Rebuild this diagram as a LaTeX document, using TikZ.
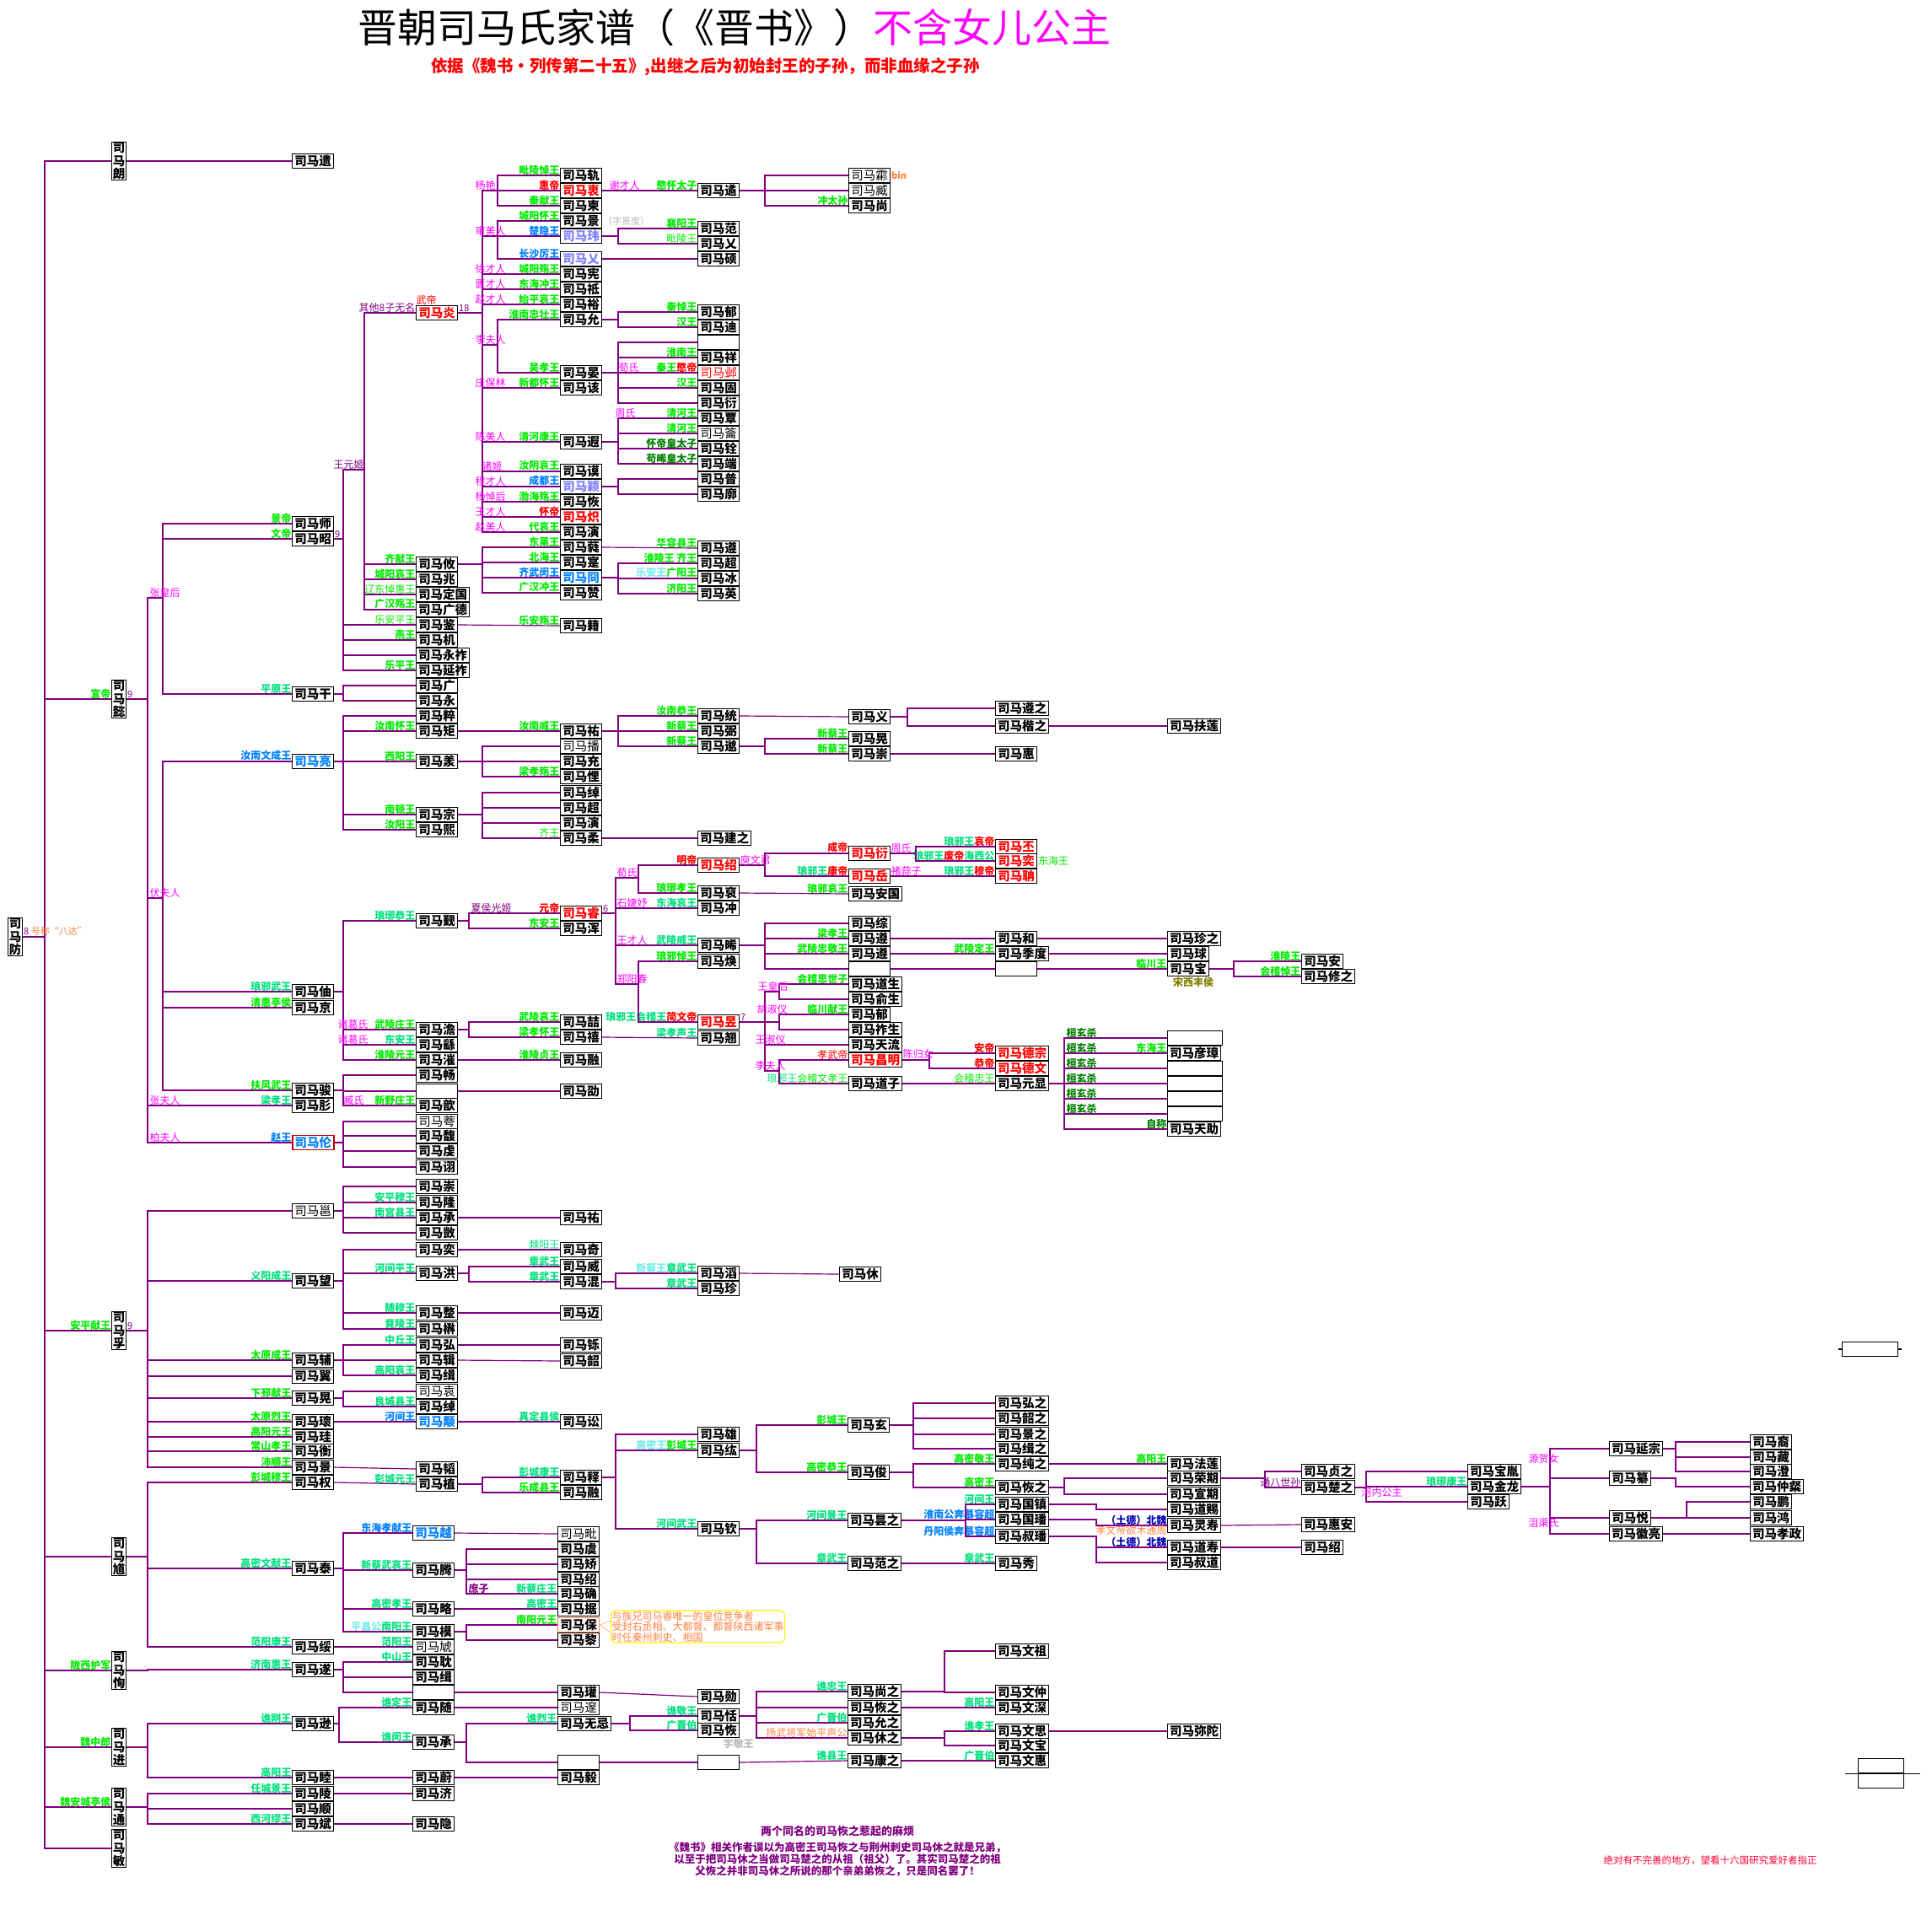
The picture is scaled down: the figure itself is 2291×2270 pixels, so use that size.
\documentclass[tikz,border=0pt]{standalone}
\usepackage{fontspec}
\setmainfont{Noto Sans CJK SC}
\usepackage{graphicx}
\usetikzlibrary{positioning}

\definecolor{vio}{RGB}{128,0,128}
\definecolor{gA}{RGB}{0,235,0}
\definecolor{gB}{RGB}{0,225,125}
\definecolor{gC}{RGB}{0,128,0}
\definecolor{mg}{RGB}{255,0,255}
\definecolor{bl}{RGB}{0,128,255}
\definecolor{lb}{RGB}{128,128,255}
\definecolor{cy}{RGB}{120,235,235}
\definecolor{og}{RGB}{255,128,64}
\definecolor{ol}{RGB}{128,128,0}
\definecolor{gy}{RGB}{185,185,185}

\begin{document}
\begin{tikzpicture}[x=1pt,y=-1pt]

	\tikzstyle{nm}=[rectangle,draw=black,line width=1pt,
		inner xsep=2.6pt,inner ysep=0pt,minimum height=17pt,minimum width=49pt,
		anchor=west,font=\fontsize{14.5}{15}\selectfont\bfseries]
	\tikzstyle{lite}=[font=\fontsize{14.5}{15}\selectfont]
	\tikzstyle{vnm}=[rectangle,draw=black,line width=1pt,inner sep=0.6pt,
		minimum width=17pt,align=center,font=\fontsize{14.5}{15.6}\selectfont\bfseries]
	\tikzstyle{lab}=[anchor=south east,inner sep=0.5pt,text=gA,
		font=\fontsize{12}{12}\selectfont\bfseries]
	\tikzstyle{thin}=[font=\fontsize{12}{12}\selectfont]
	\tikzstyle{mom}=[anchor=south west,inner sep=0.5pt,text=mg,
		font=\fontsize{12}{12}\selectfont]
	\tikzstyle{num}=[anchor=south west,inner sep=1pt,text=vio,
		font=\fontsize{11}{11}\selectfont]
	\tikzstyle{ln}=[draw=vio,line width=1.2pt]

	\useasboundingbox (0,0) rectangle (2291,2270);

	% title
	\node[anchor=west,inner sep=0,font=\fontsize{47}{47}\selectfont] (title) at (424,33)
		{晋朝司马氏家谱（《晋书》）\textcolor{mg}{不含女儿公主}};
	\node[anchor=west,inner sep=0,text=red,font=\fontsize{19.5}{19.5}\selectfont\bfseries] (sub) at (511,79)
		{依据《魏书・列传第二十五》,出继之后为初始封王的子孙，而非血缘之子孙};

	% ---------------- trunk
	\node[vnm] (fang) at (18,1111) {司\\马\\防};
	\node[vnm] (lang) at (141,191) {司\\马\\朗};
	\node[vnm,label={[lab]west:宣帝}] (yi) at (141,829) {司\\马\\懿};
	\node[vnm,label={[lab]west:安平献王}] (fu) at (141,1578) {司\\马\\孚};
	\node[vnm] (kui) at (141,1846) {司\\马\\馗};
	\node[vnm,label={[lab]west:陇西护军}] (xun) at (141,1981) {司\\马\\恂};
	\node[vnm,label={[lab]west:魏中郎}] (jin) at (141,2072) {司\\马\\进};
	\node[vnm,label={[lab]west:魏安城亭侯}] (tong) at (141,2143) {司\\马\\通};
	\node[vnm] (min) at (141,2192) {司\\马\\敏};
	\foreach \s in {lang,yi,fu,kui,xun,jin,tong,min}
		\draw[ln] (fang.east) -- (fang.east -| 53,0) |- (\s.west);
	\node[num] (ba) at (fang.east) {8 \textcolor{og}{号称“八达”}};
	\node[num] (n9a) at (yi.east) {9};
	\node[num] (n9b) at (fu.east) {9};

	% ---------------- 司马朗
	\node[nm] (yiB) at (346,191) {司马遗};
	\draw[ln] (lang.east) -- (yiB.west);

	% ---------------- 司马懿
	\node[nm,label={[lab]west:景帝}] (shi) at (346,621) {司马师};
	\node[nm,label={[lab]west:文帝}] (zhao) at (346,639) {司马昭};
	\node[nm,label={[lab,text=gB]west:平原王}] (gan) at (346,823) {司马干};
	\node[nm,text=bl,label={[lab,text=bl]west:汝南文成王}] (liang) at (346,903) {司马亮};
	\node[nm,label={[lab,text=gB]west:琅邪武王}] (zhou) at (346,1176) {司马伷};
	\node[nm,label={[lab]west:清惠亭侯}] (jingA) at (346,1195) {司马京};
	\node[nm,label={[lab]west:扶风武王}] (jun) at (346,1293) {司马骏};
	\node[nm,label={[lab,text=gB]west:梁孝王}] (rong) at (346,1311) {司马肜};
	\node[nm,draw=red!75!black,line width=1.8pt,text=bl,label={[lab,text=bl]west:赵王}] (lun) at (346,1355) {司马伦};
	\foreach \s in {shi,zhao,gan}
		\draw[ln] (yi.east) -- (yi.east -| 175,0) |- (193,709) |- (\s.west);
	\foreach \s in {liang,zhou,jingA,jun}
		\draw[ln] (yi.east) -- (yi.east -| 175,0) |- (193,1065) |- (\s.west);
	\foreach \s in {rong,lun}
		\draw[ln] (yi.east) -- (yi.east -| 175,0) |- (\s.west);
	\node[mom] (m1) at (177,709) {张皇后};
	\node[mom] (m2) at (177,1065) {伏夫人};
	\node[mom] (m3) at (177,1311) {张夫人};
	\node[mom] (m4) at (177,1355) {柏夫人};
	\node[num] (n9c) at (zhao.east) {9};

	% ---------------- 司马昭, 司马干, 司马亮
	\node[nm,text=red,label={[lab,thin,text=vio]west:其他8子无名}] (yan) at (493,371) {司马炎};
	\node[lab,thin,text=red,anchor=south west] (wudi) at (yan.north west) {武帝};
	\node[num] (n18) at (yan.east) {18};
	\node[nm,label={[lab]west:齐献王}] (you) at (493,669) {司马攸};
	\node[nm,label={[lab]west:城阳哀王}] (zhaoB) at (493,687) {司马兆};
	\node[nm,label={[lab,thin,text=gA]west:辽东悼惠王}] (dingguo) at (493,705) {司马定国};
	\node[nm,label={[lab]west:广汉殇王}] (guangde) at (493,723) {司马广德};
	\node[nm,label={[lab,thin,text=gA]west:乐安平王}] (jian) at (493,741) {司马鉴};
	\node[nm,label={[lab]west:燕王}] (jiB) at (493,759) {司马机};
	\node[nm] (yongzuo) at (493,777) {司马永祚};
	\node[nm,label={[lab]west:乐平王}] (yanzuo) at (493,795) {司马延祚};
	\node[nm] (guang) at (493,813) {司马广};
	\node[nm] (yongB) at (493,831) {司马永};
	\node[nm] (cui) at (493,849) {司马粹};
	\node[nm,label={[lab]west:汝南怀王}] (ju) at (493,867) {司马矩};
	\node[nm,label={[lab]west:西阳王}] (yang) at (493,903) {司马羕};
	\node[nm,label={[lab]west:南顿王}] (zong) at (493,966) {司马宗};
	\node[nm,label={[lab]west:汝阳王}] (xi) at (493,984) {司马熙};
	\foreach \s in {yan,you,zhaoB,dingguo,guangde}
		\draw[ln] (zhao.east) -- (zhao.east -| 407,0) |- (432,557) |- (\s.west);
	\foreach \s in {jian,jiB,yongzuo,yanzuo}
		\draw[ln] (zhao.east) -- (zhao.east -| 407,0) |- (\s.west);
	\node[mom,text=vio] (m5) at (395,557) {王元姬};
	\foreach \s in {guang,yongB}
		\draw[ln] (gan.east) -- (gan.east -| 407,0) |- (\s.west);
	\foreach \s in {cui,ju,yang,zong,xi}
		\draw[ln] (liang.east) -- (liang.east -| 407,0) |- (\s.west);

	% ---------------- 司马炎's sons
	\node[nm,label={[lab]west:毗陵悼王}] (gui) at (664,208) {司马轨};
	\node[nm,text=red,label={[lab,text=red]west:惠帝}] (zhong) at (664,226) {司马衷};
	\node[nm,label={[lab]west:秦献王}] (jianC) at (664,244) {司马柬};
	\node[nm,label={[lab]west:城阳怀王}] (jingC) at (664,262) {司马景};
	\node[nm,text=lb,label={[lab,text=bl]west:楚隐王}] (wei) at (664,280) {司马玮};
	\node[nm,text=lb,label={[lab,text=bl]west:长沙厉王}] (yiC) at (664,307) {司马乂};
	\node[nm,label={[lab]west:城阳殇王}] (xianC) at (664,325) {司马宪};
	\node[nm,label={[lab]west:东海冲王}] (zhi) at (664,343) {司马祗};
	\node[nm,label={[lab]west:始平哀王}] (yuC) at (664,361) {司马裕};
	\node[nm,label={[lab]west:淮南忠壮王}] (yun) at (664,379) {司马允};
	\node[nm,label={[lab]west:吴孝王}] (yanC) at (664,442) {司马晏};
	\node[nm,label={[lab]west:新都怀王}] (gai) at (664,460) {司马该};
	\node[nm,label={[lab]west:清河康王}] (xia) at (664,524) {司马遐};
	\node[nm,label={[lab]west:汝阴哀王}] (mo) at (664,559) {司马谟};
	\node[nm,text=lb,label={[lab,text=bl]west:成都王}] (ying) at (664,577) {司马颖};
	\node[nm,label={[lab]west:渤海殇王}] (hui) at (664,595) {司马恢};
	\node[nm,text=red,label={[lab,text=red]west:怀帝}] (chi) at (664,613) {司马炽};
	\node[nm,label={[lab]west:代哀王}] (yanD) at (664,631) {司马演};
	\node[anchor=west,inner sep=1pt,text=gy,font=\fontsize{11}{11}\selectfont] (zijd) at (jingC.east) {（字景度）};
	\foreach \s in {zhong,wei,xianC,zhi,yuC,gai,xia,mo,ying,hui,chi,yanD}
		\draw[ln] (yan.east) -- (yan.east -| 572,0) |- (\s.west);
	\foreach \s in {gui,jianC}
		\draw[ln] (zhong.west -| 590,0) |- (\s.west);
	\foreach \s in {jingC,yiC}
		\draw[ln] (wei.west -| 590,0) |- (\s.west);
	\foreach \s in {yun,yanC}
		\draw[ln] (yan.east) -- (yan.east -| 572,0) |- (590,409) |- (\s.west);
	\node[mom] (m6) at (563,226) {杨艳};
	\node[mom] (m7) at (563,280) {审美人};
	\node[mom] (m8) at (563,325) {徐才人};
	\node[mom] (m9) at (563,343) {匮才人};
	\node[mom] (m10) at (563,361) {赵才人};
	\node[mom] (m11) at (563,409) {李夫人};
	\node[mom] (m12) at (563,460) {庄保林};
	\node[mom] (m13) at (563,524) {陈美人};
	\node[mom] (m14) at (571,559) {诸姬};
	\node[mom] (m15) at (563,577) {程才人};
	\node[mom] (m16) at (563,595) {杨悼后};
	\node[mom] (m17) at (563,613) {王才人};
	\node[mom] (m18) at (563,631) {赵美人};

	% grandsons of 司马炎
	\node[nm,label={[lab]west:愍怀太子}] (yu) at (827,226) {司马遹};
	\node[mom] (m19) at (722,226) {谢才人};
	\draw[ln] (zhong.east) -- (yu.west);
	\node[nm,lite] (lin) at (1006,208) {司马霦};
	\node[anchor=west,inner sep=1pt,text=og,font=\fontsize{11}{11}\selectfont\bfseries] (bin) at (lin.east) {bin};
	\node[nm,lite] (zang) at (1006,226) {司马臧};
	\node[nm,label={[lab]west:冲太孙}] (shang) at (1006,244) {司马尚};
	\foreach \s in {lin,zang,shang}
		\draw[ln] (yu.east) -- (yu.east -| 907,0) |- (\s.west);
	\node[nm,label={[lab]west:襄阳王}] (fan) at (827,271) {司马范};
	\node[nm,label={[lab,thin,text=gA]west:毗陵王}] (yiD) at (827,289) {司马乂};
	\node[nm] (shuo) at (827,307) {司马硕};
	\foreach \s in {fan,yiD}
		\draw[ln] (wei.east) -- (wei.east -| 733,0) |- (\s.west);
	\draw[ln] (yiC.east) -- (shuo.west);
	\node[nm,label={[lab]west:秦悼王}] (yuD) at (827,370) {司马郁};
	\node[nm,label={[lab]west:汉王}] (di) at (827,388) {司马迪};
	\foreach \s in {yuD,di}
		\draw[ln] (yun.east) -- (yun.east -| 733,0) |- (\s.west);
	\node[nm] (blD) at (827,406) {};
	\node[nm,label={[lab]west:淮南王}] (xiang) at (827,424) {司马祥};
	\node[nm,lite,text=red,label={[lab]west:{秦王\textcolor{red}{愍帝}}}] (ye) at (827,442) {司马邺};
	\node[nm,label={[lab]west:汉王}] (gu) at (827,460) {司马固};
	\node[nm] (yanF) at (827,478) {司马衍};
	\foreach \s in {blD,xiang,ye,gu,yanF}
		\draw[ln] (yanC.east) -- (yanC.east -| 733,0) |- (\s.west);
	\node[mom] (m20) at (733,442) {荀氏};
	\node[nm,label={[lab]west:清河王}] (tan) at (827,496) {司马覃};
	\node[nm,lite,label={[lab]west:清河王}] (yueD) at (827,514) {司马籥};
	\node[nm,label={[lab,text=gC]west:怀帝皇太子}] (quanD) at (827,532) {司马铨};
	\node[nm,label={[lab,text=gC]west:苟晞皇太子}] (duan) at (827,550) {司马端};
	\foreach \s in {tan,yueD,quanD,duan}
		\draw[ln] (xia.east) -- (xia.east -| 733,0) |- (\s.west);
	\node[mom] (m21) at (729,496) {周氏};
	\node[nm] (pu) at (827,568) {司马普};
	\node[nm] (kuo) at (827,586) {司马廓};
	\foreach \s in {pu,kuo}
		\draw[ln] (ying.east) -- (ying.east -| 733,0) |- (\s.west);

	% ---------------- 司马攸 and the sons of 司马亮
	\node[nm,label={[lab]west:东莱王}] (rui) at (664,649) {司马蕤};
	\node[nm,label={[lab]west:北海王}] (shiC) at (664,667) {司马寔};
	\node[nm,text=bl,label={[lab,text=bl]west:齐武闵王}] (jiong) at (664,685) {司马冏};
	\node[nm,label={[lab]west:广汉冲王}] (zan) at (664,703) {司马赞};
	\foreach \s in {rui,shiC,jiong,zan}
		\draw[ln] (you.east) -- (you.east -| 572,0) |- (\s.west);
	\node[nm,label={[lab]west:华容县王}] (zunD) at (827,650) {司马遵};
	\draw[ln] (rui.east) -- (zunD.west);
	\node[nm,label={[lab]west:淮陵王 齐王}] (chaoD) at (827,668) {司马超};
	\node[nm,label={[lab]west:{\textcolor{cy}{乐安王}广阳王}}] (bing) at (827,686) {司马冰};
	\node[nm,label={[lab]west:济阳王}] (yingD) at (827,704) {司马英};
	\foreach \s in {chaoD,bing,yingD}
		\draw[ln] (jiong.east) -- (jiong.east -| 733,0) |- (\s.west);
	\node[nm,label={[lab]west:乐安殇王}] (jiC) at (664,742) {司马籍};
	\draw[ln] (jian.east) -- (jiC.west);
	\node[nm,label={[lab]west:汝南威王}] (youC) at (664,867) {司马祐};
	\draw[ln] (ju.east) -- (youC.west);
	\node[nm,lite] (bo) at (664,885) {司马播};
	\node[nm] (chongC) at (664,903) {司马充};
	\node[nm,label={[lab]west:梁孝殇王}] (kuiC) at (664,921) {司马悝};
	\foreach \s in {bo,chongC,kuiC}
		\draw[ln] (yang.east) -- (yang.east -| 572,0) |- (\s.west);
	\node[nm] (chuoC) at (664,940) {司马绰};
	\node[nm] (chaoC) at (664,958) {司马超};
	\node[nm] (yanE) at (664,976) {司马演};
	\node[nm,label={[lab,thin,text=gA]west:齐王}] (rou) at (664,994) {司马柔};
	\foreach \s in {chuoC,chaoC,yanE,rou}
		\draw[ln] (zong.east) -- (zong.east -| 572,0) |- (\s.west);
	\node[nm] (jianzhi) at (827,994) {司马建之};
	\draw[ln] (rou.east) -- (jianzhi.west);
	\node[nm,label={[lab]west:汝南恭王}] (tongD) at (827,849) {司马统};
	\node[nm,label={[lab]west:新蔡王}] (bi) at (827,867) {司马弼};
	\node[nm,label={[lab]west:新蔡王}] (miao) at (827,885) {司马邈};
	\foreach \s in {tongD,bi,miao}
		\draw[ln] (youC.east) -- (youC.east -| 733,0) |- (\s.west);
	\node[nm] (yiE) at (1006,850) {司马义};
	\draw[ln] (tongD.east) -- (yiE.west);
	\node[nm,label={[lab]west:新蔡王}] (huangE) at (1006,876) {司马晃};
	\node[nm,label={[lab]west:新蔡王}] (chongE) at (1006,894) {司马崇};
	\foreach \s in {huangE,chongE}
		\draw[ln] (miao.east) -- (miao.east -| 907,0) |- (\s.west);
	\node[nm] (zunzhi) at (1180,840) {司马遵之};
	\node[nm] (kaizhi) at (1180,861) {司马楷之};
	\foreach \s in {zunzhi,kaizhi}
		\draw[ln] (yiE.east) -- (yiE.east -| 1076,0) |- (\s.west);
	\node[nm] (huiF) at (1180,894) {司马惠};
	\draw[ln] (chongE.east) -- (huiF.west);
	\node[nm] (fulian) at (1384,861) {司马扶莲};
	\draw[ln] (kaizhi.east) -- (fulian.west);

	% ---------------- 司马伷 line (元帝)
	\node[nm,label={[lab,text=gB]west:琅琊恭王}] (jinB) at (493,1092) {司马觐};
	\node[nm,text=red,label={[lab,text=red]west:元帝}] (rui2) at (664,1083) {司马睿};
	\node[nm,label={[lab]west:东安王}] (hun) at (664,1101) {司马浑};
	\foreach \s in {rui2,hun}
		\draw[ln] (jinB.east) -- (jinB.east -| 556,0) |- (\s.west);
	\node[mom,text=vio] (m22) at (558,1083) {夏侯光姬};
	\node[num] (n6) at (rui2.east) {6};
	\node[nm,label={[lab]west:武陵庄王}] (dan) at (493,1221) {司马澹};
	\node[nm,label={[lab,text=gB]west:东安王}] (yao) at (493,1239) {司马繇};
	\node[nm,label={[lab]west:淮陵元王}] (cuiB) at (493,1257) {司马漼};
	\foreach \s in {jinB,dan,yao,cuiB}
		\draw[ln] (zhou.east) -- (zhou.east -| 407,0) |- (\s.west);
	\node[mom] (m23) at (400,1221) {诸葛氏};
	\node[mom] (m24) at (400,1239) {诸葛氏};
	\node[nm] (chang) at (493,1275) {司马畅};
	\node[nm] (blB) at (493,1294) {};
	\node[nm,label={[lab]west:新野庄王}] (xinB) at (493,1311) {司马歆};
	\foreach \s in {chang,blB,xinB}
		\draw[ln] (jun.east) -- (jun.east -| 407,0) |- (\s.west);
	\node[mom] (m25) at (407,1311) {臧氏};
	\node[nm,lite] (kua) at (493,1330) {司马荂};
	\node[nm] (fuB) at (493,1347) {司马馥};
	\node[nm] (qian) at (493,1365) {司马虔};
	\node[nm] (xuB) at (493,1384) {司马诩};
	\foreach \s in {kua,fuB,qian,xuB}
		\draw[ln] (lun.east) -- (lun.east -| 407,0) |- (\s.west);
	\node[nm,label={[lab]west:武陵哀王}] (zhe) at (664,1212) {司马喆};
	\node[nm,label={[lab]west:梁孝怀王}] (xiC) at (664,1230) {司马禧};
	\foreach \s in {zhe,xiC}
		\draw[ln] (dan.east) -- (dan.east -| 556,0) |- (\s.west);
	\node[nm,label={[lab]west:淮陵贞王}] (rongC) at (664,1257) {司马融};
	\draw[ln] (cuiB.east) -- (rongC.west);
	\node[nm] (shaoC) at (664,1294) {司马劭};
	\draw[ln] (blB.east) -- (shaoC.west);
	\node[nm,label={[lab,text=gB]west:梁孝声王}] (qiao) at (827,1231) {司马翘};
	\draw[ln] (xiC.east) -- (qiao.west);

	% sons of 元帝
	\node[nm,text=red,label={[lab,text=red]west:明帝}] (shao) at (827,1026) {司马绍};
	\node[mom] (m26) at (shao.east) {庾文君};
	\node[nm,label={[lab]west:琅琊孝王}] (pou) at (827,1059) {司马裒};
	\node[nm,label={[lab,text=gB]west:东海哀王}] (chongD) at (827,1077) {司马冲};
	\node[nm,label={[lab,text=gB]west:武陵威王}] (xiD) at (827,1121) {司马晞};
	\node[nm,label={[lab]west:琅邪悼王}] (huan) at (827,1140) {司马焕};
	\node[nm,text=red,label={[lab,text=gB]west:{琅邪王会稽王\textcolor{red}{简文帝}}}] (yu3) at (827,1212) {司马昱};
	\node[num] (n7) at (yu3.east) {7};
	\foreach \s in {shao,pou}
		\draw[ln] (rui2.east) -- (rui2.east -| 730,0) |- (757,1041) |- (\s.west);
	\foreach \s in {chongD,xiD}
		\draw[ln] (rui2.east) -- (rui2.east -| 730,0) |- (\s.west);
	\foreach \s in {huan,yu3}
		\draw[ln] (rui2.east) -- (rui2.east -| 730,0) |- (757,1167) |- (\s.west);
	\node[mom] (m27) at (731,1041) {荀氏};
	\node[mom] (m28) at (731,1077) {石婕妤};
	\node[mom] (m29) at (731,1121) {王才人};
	\node[mom] (m30) at (731,1167) {郑阳春};

	% 成帝, 康帝
	\node[nm,text=red,label={[lab,text=red]west:成帝}] (yanE2) at (1006,1012) {司马衍};
	\node[nm,text=red,label={[lab,text=gB]west:{琅邪王\textcolor{red}{康帝}}}] (yueE) at (1006,1039) {司马岳};
	\foreach \s in {yanE2,yueE}
		\draw[ln] (shao.east) -- (shao.east -| 907,0) |- (\s.west);
	\node[mom] (m31) at (yanE2.east) {周氏};
	\node[mom] (m32) at (yueE.east) {褚蒜子};
	\node[nm,label={[lab]west:琅邪哀王}] (anguo) at (1006,1060) {司马安国};
	\draw[ln] (pou.east) -- (anguo.west);
	\node[nm,text=red,label={[lab,text=gB]west:{琅邪王\textcolor{red}{哀帝}}}] (pi) at (1180,1004) {司马丕};
	\node[nm,text=red,label={[lab,text=gB]west:{琅邪王\textcolor{red}{废帝}海西公}}] (yiF) at (1180,1021) {司马奕};
	\node[anchor=west,inner sep=1pt,text=gA,font=\fontsize{12}{12}\selectfont] (dhw) at (yiF.east) {东海王};
	\foreach \s in {pi,yiF}
		\draw[ln] (yanE2.east) -- (yanE2.east -| 1086,0) |- (\s.west);
	\node[nm,text=red,label={[lab,text=gB]west:{琅邪王\textcolor{red}{穆帝}}}] (danF) at (1180,1039) {司马聃};
	\draw[ln] (yueE.east) -- (danF.west);

	% 司马晞
	\node[nm] (zongE) at (1006,1095) {司马综};
	\node[nm,label={[lab]west:梁孝王}] (zunE) at (1006,1113) {司马遵};
	\node[nm,label={[lab]west:武陵忠敬王}] (zunE2) at (1006,1131) {司马遵};
	\node[nm] (blE) at (1006,1149) {};
	\foreach \s in {zongE,zunE,zunE2,blE}
		\draw[ln] (xiD.east) -- (xiD.east -| 907,0) |- (\s.west);
	\node[nm] (he) at (1180,1113) {司马和};
	\node[nm,label={[lab]west:武陵定王}] (jidu) at (1180,1131) {司马季度};
	\node[nm] (blF) at (1180,1149) {};
	\draw[ln] (zunE.east) -- (he.west);
	\draw[ln] (zunE2.east) -- (jidu.west);
	\draw[ln] (blE.east) -- (blF.west);
	\node[nm] (zhenzhiG) at (1384,1113) {司马珍之};
	\node[nm] (qiu) at (1384,1131) {司马球};
	\node[nm,label={[lab]west:临川王}] (baoG) at (1384,1149) {司马宝};
	\node[anchor=north west,inner sep=1pt,text=ol,font=\fontsize{12}{12}\selectfont\bfseries] (sxf) at ([xshift=6pt]baoG.south west) {宋西丰侯};
	\draw[ln] (he.east) -- (zhenzhiG.west);
	\draw[ln] (jidu.east) -- (qiu.west);
	\draw[ln] (blF.east) -- (baoG.west);
	\node[nm,label={[lab]west:淮陵王}] (anH) at (1543,1140) {司马安};
	\node[nm,label={[lab]west:会稽悼王}] (xiuzhi) at (1543,1158) {司马修之};
	\foreach \s in {anH,xiuzhi}
		\draw[ln] (baoG.east) -- (baoG.east -| 1463,0) |- (\s.west);

	% 简文帝
	\node[nm,label={[lab]west:会稽思世子}] (daosheng) at (1006,1167) {司马道生};
	\node[nm] (yusheng) at (1006,1185) {司马俞生};
	\node[nm,label={[lab]west:临川献王}] (yuE) at (1006,1203) {司马郁};
	\node[nm] (zuosheng) at (1006,1221) {司马祚生};
	\node[nm] (tianliu) at (1006,1239) {司马天流};
	\node[nm,text=red,label={[lab,thin,text=red]west:孝武帝}] (changming) at (1006,1257) {司马昌明};
	\node[nm,label={[lab,thin,text=gA]west:{\textcolor{gB}{琅邪王}会稽文孝王}}] (daozi) at (1006,1285) {司马道子};
	\foreach \s in {daosheng,yusheng}
		\draw[ln] (yu3.east) -- (yu3.east -| 907,0) |- (924,1176) |- (\s.west);
	\foreach \s in {yuE,zuosheng}
		\draw[ln] (yu3.east) -- (yu3.east -| 924,0) |- (\s.west);
	\draw[ln] (yu3.east) -- (yu3.east -| 907,0) |- (tianliu.west);
	\foreach \s in {changming,daozi}
		\draw[ln] (yu3.east) -- (yu3.east -| 907,0) |- (924,1270) |- (\s.west);
	\node[mom] (m33) at (898,1176) {王皇后};
	\node[mom] (m34) at (897,1203) {胡淑仪};
	\node[mom] (m35) at (895,1239) {王淑仪};
	\node[mom] (m36) at (895,1270) {李夫人};
	\node[nm,text=red,label={[lab,text=red]west:安帝}] (dezong) at (1180,1249) {司马德宗};
	\node[nm,text=red,label={[lab,text=red]west:恭帝}] (dewen) at (1180,1267) {司马德文};
	\foreach \s in {dezong,dewen}
		\draw[ln] (changming.east) -- (changming.east -| 1102,0) |- (\s.west);
	\node[mom] (m37) at ([yshift=1pt]changming.east) {陈归女};
	\node[nm,label={[lab,thin,text=gA]west:会稽忠王}] (yuanxian) at (1180,1285) {司马元显};
	\draw[ln] (daozi.east) -- (yuanxian.west);
	\node[nm,minimum width=65pt] (g1) at (1384,1231) {};
	\node[nm,label={[lab]west:东海王}] (yanzhang) at (1384,1249) {司马彦璋};
	\node[nm,minimum width=65pt] (g3) at (1384,1267) {};
	\node[nm,minimum width=65pt] (g4) at (1384,1285) {};
	\node[nm,minimum width=65pt] (g5) at (1384,1303) {};
	\node[nm,minimum width=65pt] (g6) at (1384,1321) {};
	\node[nm,label={[lab,text=gC]west:自称}] (tianzhu) at (1384,1339) {司马天助};
	\foreach \s in {g1,yanzhang,g3,g4,g5,g6,tianzhu}
		\draw[ln] (yuanxian.east) -- (yuanxian.east -| 1262,0) |- (\s.west);
	\foreach \y [count=\i] in {1231,1249,1267,1285,1303,1321}
		\node[mom,text=gC,font=\fontsize{12}{12}\selectfont\bfseries] (hx\i) at (1264,\y) {桓玄杀};

	% ---------------- 司马孚
	\node[nm,lite] (yong) at (346,1436) {司马邕};
	\node[nm,label={[lab,text=gB]west:义阳成王}] (wang) at (346,1519) {司马望};
	\node[nm,label={[lab]west:太原成王}] (fuA) at (346,1613) {司马辅};
	\node[nm] (yiA) at (346,1632) {司马翼};
	\node[nm,label={[lab]west:下邳献王}] (huangA) at (346,1658) {司马晃};
	\node[nm,label={[lab]west:太原烈王}] (guiA) at (346,1686) {司马瓌};
	\node[nm,label={[lab]west:高阳元王}] (guiB) at (346,1704) {司马珪};
	\node[nm,label={[lab]west:常山孝王}] (heng) at (346,1721) {司马衡};
	\node[nm,label={[lab]west:沛顺王}] (jingB) at (346,1740) {司马景};
	\node[nm,label={[lab]west:彭城穆王}] (quan) at (346,1758) {司马权};
	\foreach \s in {yong,wang,fuA,yiA,huangA,guiA,guiB,heng,jingB}
		\draw[ln] (fu.east) -- (fu.east -| 175,0) |- (\s.west);

	\node[nm] (chongB) at (493,1407) {司马崇};
	\node[nm,label={[lab,text=gB]west:安平穆王}] (long) at (493,1426) {司马隆};
	\node[nm,label={[lab,text=gB]west:南宫县王}] (chengB) at (493,1444) {司马承};
	\node[nm] (ai) at (493,1462) {司马敳};
	\foreach \s in {chongB,long,chengB,ai}
		\draw[ln] (yong.east) -- (yong.east -| 407,0) |- (\s.west);
	\node[nm] (youC2) at (664,1444) {司马祐};
	\draw[ln] (chengB.east) -- (youC2.west);
	\node[nm] (yiB2) at (493,1482) {司马奕};
	\node[nm,label={[lab,text=gB]west:河间平王}] (hong) at (493,1510) {司马洪};
	\node[nm,label={[lab,text=gB]west:随穆王}] (zheng) at (493,1557) {司马整};
	\node[nm,label={[lab,text=gB]west:竟陵王}] (mao) at (493,1576) {司马楙};
	\foreach \s in {yiB2,hong,zheng,mao}
		\draw[ln] (wang.east) -- (wang.east -| 407,0) |- (\s.west);
	\node[nm,label={[lab,thin,text=gB]west:棘阳王}] (qiC) at (664,1482) {司马奇};
	\draw[ln] (yiB2.east) -- (qiC.west);
	\node[nm,label={[lab,text=gB]west:章武王}] (weiC) at (664,1502) {司马威};
	\node[nm,label={[lab,text=gB]west:章武王}] (hunC) at (664,1520) {司马混};
	\foreach \s in {weiC,hunC}
		\draw[ln] (hong.east) -- (hong.east -| 556,0) |- (\s.west);
	\node[nm,label={[lab]west:{\textcolor{cy}{新蔡王}\textcolor{gB}{章武王}}}] (tao) at (827,1510) {司马滔};
	\node[nm,label={[lab,text=gB]west:章武王}] (zhenD) at (827,1528) {司马珍};
	\foreach \s in {tao,zhenD}
		\draw[ln] (hunC.east) -- (hunC.east -| 730,0) |- (\s.west);
	\node[nm] (xiuE) at (995,1511) {司马休};
	\draw[ln] (tao.east) -- (xiuE.west);
	\node[nm] (mai) at (664,1557) {司马迈};
	\draw[ln] (zheng.east) -- (mai.west);
	\node[nm,label={[lab,text=gB]west:中丘王}] (hongB) at (493,1595) {司马弘};
	\node[nm] (jiB2) at (493,1613) {司马辑};
	\node[nm,label={[lab,text=gB]west:高阳哀王}] (qiB) at (493,1631) {司马缉};
	\foreach \s in {hongB,jiB2,qiB}
		\draw[ln] (fuA.east) -- (fuA.east -| 407,0) |- (\s.west);
	\node[nm] (shuoC) at (664,1595) {司马铄};
	\node[nm] (shaoC2) at (664,1614) {司马韶};
	\draw[ln] (hongB.east) -- (shuoC.west);
	\draw[ln] (jiB2.east) -- (shaoC2.west);
	\node[nm,lite] (yuanB) at (493,1650) {司马袁};
	\node[nm,label={[lab,text=gB]west:良城县王}] (chuoB) at (493,1668) {司马绰};
	\foreach \s in {yuanB,chuoB}
		\draw[ln] (huangA.east) -- (huangA.east -| 407,0) |- (\s.west);
	\node[nm,text=bl,label={[lab,text=bl]west:河间王}] (yongC) at (493,1686) {司马颙};
	\draw[ln] (guiA.east) -- (yongC.west);
	\node[nm,label={[lab,text=gB]west:真定县侯}] (song) at (664,1686) {司马讼};
	\draw[ln] (yongC.east) -- (song.west);
	\node[nm] (taoB) at (493,1742) {司马韬};
	\node[nm,label={[lab,text=gB]west:彭城元王}] (zhiB) at (493,1760) {司马植};
	\draw[ln] (jingB.east) -- (taoB.west);
	\draw[ln] (quan.east) -- (zhiB.west);
	\node[nm,label={[lab,text=gB]west:彭城康王}] (shiC2) at (664,1752) {司马释};
	\node[nm,label={[lab]west:乐成县王}] (rongC2) at (664,1770) {司马融};
	\foreach \s in {shiC2,rongC2}
		\draw[ln] (zhiB.east) -- (zhiB.east -| 572,0) |- (\s.west);
	\node[nm] (xiong) at (827,1701) {司马雄};
	\node[nm,label={[lab]west:{\textcolor{cy}{高密王}彭城王}}] (hongD) at (827,1720) {司马纮};
	\node[nm,label={[lab,text=gB]west:河间武王}] (qin) at (827,1813) {司马钦};
	\foreach \s in {xiong,hongD,qin}
		\draw[ln] (shiC2.east) -- (shiC2.east -| 730,0) |- (\s.west);

	% 纮, 钦 descendants
	\node[nm,label={[lab]west:彭城王}] (xuanE) at (1005,1690) {司马玄};
	\node[nm,label={[lab]west:高密恭王}] (junE) at (1005,1746) {司马俊};
	\foreach \s in {xuanE,junE}
		\draw[ln] (hongD.east) -- (hongD.east -| 897,0) |- (\s.west);
	\node[nm] (hongzhi) at (1180,1664) {司马弘之};
	\node[nm] (shaozhi) at (1180,1682) {司马韶之};
	\node[nm] (jingzhi) at (1180,1701) {司马景之};
	\node[nm] (jizhi) at (1180,1718) {司马缉之};
	\foreach \s in {hongzhi,shaozhi,jingzhi,jizhi}
		\draw[ln] (xuanE.east) -- (xuanE.east -| 1083,0) |- (\s.west);
	\node[nm,label={[lab]west:高密敬王}] (chunzhi) at (1180,1736) {司马纯之};
	\node[nm,label={[lab]west:高密王}] (huizhi) at (1180,1764) {司马恢之};
	\foreach \s in {chunzhi,huizhi}
		\draw[ln] (junE.east) -- (junE.east -| 1083,0) |- (\s.west);
	\node[nm,label={[lab,text=gB]west:河间景王}] (tanzhi) at (1005,1803) {司马昙之};
	\node[nm,label={[lab,text=gB]west:章武王}] (fanzhi) at (1005,1854) {司马范之};
	\foreach \s in {tanzhi,fanzhi}
		\draw[ln] (qin.east) -- (qin.east -| 897,0) |- (\s.west);
	\node[nm,label={[lab,text=gB]west:河间王}] (guozhen) at (1180,1784) {司马国镇};
	\node[nm,label={[lab,text=bl]west:淮南公奔慕容超}] (guofan) at (1180,1802) {司马国璠};
	\node[nm,label={[lab,text=bl]west:丹阳侯奔慕容超}] (shufan) at (1180,1822) {司马叔璠};
	\foreach \s in {guozhen,guofan,shufan}
		\draw[ln] (tanzhi.east) -- (tanzhi.east -| 1145,0) |- (\s.west);
	\node[nm,label={[lab,text=gB]west:章武王}] (xiuF) at (1180,1854) {司马秀};
	\draw[ln] (fanzhi.east) -- (xiuF.west);

	% 司马楚之 line
	\node[nm,label={[lab]west:高阳王}] (falian) at (1384,1736) {司马法莲};
	\draw[ln] (chunzhi.east) -- (falian.west);
	\node[nm] (rongqi) at (1384,1753) {司马荣期};
	\node[nm] (xuanqi) at (1384,1772) {司马宣期};
	\foreach \s in {rongqi,xuanqi}
		\draw[ln] (huizhi.east) -- (huizhi.east -| 1262,0) |- (\s.west);
	\node[nm] (daoci) at (1384,1790) {司马道赐};
	\draw[ln] (guozhen.east) -- (guozhen.east -| 1300,0) |- (daoci.west);
	\node[nm] (lingshou) at (1384,1809) {司马灵寿};
	\draw[ln] (guofan.east) -- (guofan.east -| 1300,0) |- (lingshou.west);
	\node[nm] (daoshou) at (1384,1835) {司马道寿};
	\node[nm] (shudao) at (1384,1853) {司马叔道};
	\foreach \s in {daoshou,shudao}
		\draw[ln] (shufan.east) -- (shufan.east -| 1300,0) |- (\s.west);
	\node[lab,text=blue!70!black] (td1) at (lingshou.west) {（土德）北魏};
	\node[lab,thin,text=og,anchor=north east] (lwd) at (lingshou.west) {孝文帝欲术通周};
	\node[lab,text=blue!70!black] (td2) at (daoshou.west) {（土德）北魏};
	\node[nm] (zhenzhiH) at (1543,1745) {司马贞之};
	\node[nm] (chuzhi) at (1543,1764) {司马楚之};
	\foreach \s in {zhenzhiH,chuzhi}
		\draw[ln] (rongqi.east) -- (rongqi.east -| 1500,0) |- (\s.west);
	\node[lab,thin,text=vio] (tbs) at (chuzhi.west) {通八世孙};
	\node[nm] (huian) at (1543,1808) {司马惠安};
	\draw[ln] (lingshou.east) -- (huian.west);
	\node[nm] (shaoH) at (1543,1835) {司马绍};
	\draw[ln] (daoshou.east) -- (shaoH.west);
	\node[nm] (baoyin) at (1740,1745) {司马宝胤};
	\node[nm,label={[lab,text=gB]west:琅琊康王}] (jinlong) at (1740,1763) {司马金龙};
	\node[nm] (yueI) at (1740,1781) {司马跃};
	\foreach \s in {baoyin,jinlong,yueI}
		\draw[ln] (chuzhi.east) -- (chuzhi.east -| 1620,0) |- (\s.west);
	\node[mom] (hngz) at (1614,1776) {河内公主};
	\node[nm] (yanzong) at (1908,1718) {司马延宗};
	\node[nm] (zuan) at (1908,1753) {司马纂};
	\node[nm] (yueJ) at (1908,1800) {司马悦};
	\node[nm] (huiliang) at (1908,1819) {司马徽亮};
	\foreach \s in {yanzong,zuan,yueJ,huiliang}
		\draw[ln] (jinlong.east) -- (jinlong.east -| 1838,0) |- (\s.west);
	\node[mom] (yhn) at (1812,1736) {源贺女};
	\node[mom] (jqn) at (1812,1812) {沮渠氏};
	\node[nm] (yiK) at (2075,1710) {司马裔};
	\node[nm] (zangK) at (2075,1728) {司马藏};
	\node[nm] (chengK) at (2075,1745) {司马澄};
	\foreach \s in {yiK,zangK,chengK}
		\draw[ln] (yanzong.east) -- (yanzong.east -| 1987,0) |- (\s.west);
	\node[nm] (zhongcan) at (2075,1763) {司马仲粲};
	\draw[ln] (zuan.east) -- (zuan.east -| 1987,0) |- (zhongcan.west);
	\node[nm] (peng) at (2075,1781) {司马鹏};
	\node[nm] (hongK) at (2075,1800) {司马鸿};
	\foreach \s in {peng,hongK}
		\draw[ln] (yueJ.east) -- (yueJ.east -| 2000,0) |- (\s.west);
	\node[nm] (xiaozheng) at (2075,1819) {司马孝政};
	\draw[ln] (huiliang.east) -- (xiaozheng.west);

	% ---------------- 司马馗, 司马进, 司马通
	\node[nm,label={[lab,text=gB]west:高密文献王}] (tai) at (346,1860) {司马泰};
	\node[nm,label={[lab,text=gB]west:范阳康王}] (suiA) at (346,1953) {司马绥};
	\node[nm,label={[lab,text=gB]west:济南惠王}] (suiB) at (346,1980) {司马遂};
	\foreach \s in {quan,tai,suiA}
		\draw[ln] (kui.east) -- (kui.east -| 175,0) |- (\s.west);
	\draw[ln] (xun.east) -- (xun.east -| 175,0) |- (suiB.west);
	\node[nm,label={[lab,text=gB]west:谯刚王}] (xunA) at (346,2044) {司马逊};
	\node[nm,label={[lab,text=gB]west:高阳王}] (mu) at (346,2108) {司马睦};
	\foreach \s in {xunA,mu}
		\draw[ln] (jin.east) -- (jin.east -| 175,0) |- (\s.west);
	\node[nm,label={[lab,text=gB]west:任城景王}] (lingA) at (346,2127) {司马陵};
	\node[nm] (shun) at (346,2145) {司马顺};
	\node[nm,label={[lab,text=gB]west:西河缪王}] (binA) at (346,2163) {司马斌};
	\foreach \s in {lingA,shun,binA}
		\draw[ln] (tong.east) -- (tong.east -| 175,0) |- (\s.west);

	\node[nm,text=bl,label={[lab,text=bl]west:东海孝献王}] (yueB) at (489,1818) {司马越};
	\node[nm,label={[lab,text=gB]west:新蔡武哀王}] (teng) at (489,1862) {司马腾};
	\node[nm,label={[lab,text=gB]west:高密孝王}] (lue) at (489,1908) {司马略};
	\node[nm,label={[lab]west:{\textcolor{cy}{平昌公}\textcolor{gB}{南阳王}}}] (moB) at (489,1935) {司马模};
	\foreach \s in {yueB,teng,lue,moB}
		\draw[ln] (tai.east) -- (tai.east -| 407,0) |- (\s.west);
	\node[nm,lite,label={[lab,text=gB]west:范阳王}] (xiao) at (489,1953) {司马虓};
	\draw[ln] (suiA.east) -- (xiao.west);
	\node[nm,label={[lab,text=gB]west:中山王}] (danB) at (489,1971) {司马耽};
	\node[nm] (qiB2) at (489,1989) {司马缉};
	\node[nm] (blB2) at (489,2007) {};
	\foreach \s in {danB,qiB2,blB2}
		\draw[ln] (suiB.east) -- (suiB.east -| 407,0) |- (\s.west);
	\node[nm,label={[lab,text=gB]west:谯定王}] (suiC) at (489,2025) {司马随};
	\node[nm,label={[lab,text=gB]west:谯闵王}] (chengC) at (489,2066) {司马承};
	\foreach \s in {suiC,chengC}
		\draw[ln] (xunA.east) -- (xunA.east -| 402,0) |- (\s.west);
	\node[nm] (weiB) at (489,2108) {司马蔚};
	\node[nm] (jiB3) at (489,2127) {司马济};
	\node[nm] (yinB) at (489,2163) {司马隐};
	\draw[ln] (mu.east) -- (weiB.west);
	\draw[ln] (lingA.east) -- (jiB3.west);
	\draw[ln] (binA.east) -- (yinB.west);

	\node[nm,lite] (piC) at (661,1819) {司马毗};
	\draw[ln] (yueB.east) -- (piC.west);
	\node[nm] (yuC2) at (661,1837) {司马虞};
	\node[nm] (jiao) at (661,1855) {司马矫};
	\node[nm] (shaoC3) at (661,1873) {司马绍};
	\node[nm,label={[lab,text=gB]west:新蔡庄王}] (que) at (661,1890) {司马确};
	\foreach \s in {yuC2,jiao,shaoC3,que}
		\draw[ln] (teng.east) -- (teng.east -| 553,0) |- (\s.west);
	\node[mom,text=vio,font=\fontsize{12}{12}\selectfont\bfseries] (m38) at (555,1890) {庶子};
	\node[nm,label={[lab,text=gB]west:高密王}] (juC) at (661,1908) {司马据};
	\draw[ln] (lue.east) -- (juC.west);
	\node[nm,draw=og,line width=1.4pt,label={[lab]west:南阳元王}] (baoC) at (661,1927) {司马保};
	\node[nm] (li) at (661,1945) {司马黎};
	\foreach \s in {baoC,li}
		\draw[ln] (moB.east) -- (moB.east -| 553,0) |- (\s.west);
	\node[draw=yellow,line width=1.2pt,rounded corners=6pt,text=og,align=left,inner sep=1pt,
		anchor=west,font=\fontsize{12}{12.5}\selectfont] (note) at (724,1929)
		{与族兄司马睿唯一的皇位竞争者\\受封右丞相、大都督、都督陕西诸军事\\时任秦州刺史、相国};
	\draw[og] ([yshift=7pt]note.west) -- (baoC.east) -- ([yshift=-7pt]note.west);

	\node[nm] (guan) at (661,2007) {司马瓘};
	\draw[ln] (blB2.east) -- (guan.west);
	\node[nm,lite] (suiD) at (661,2025) {司马邃};
	\draw[ln] (suiC.east) -- (suiD.west);
	\node[nm,label={[lab,text=gB]west:谯烈王}] (wuji) at (661,2044) {司马无忌};
	\node[nm] (blC) at (661,2090) {};
	\foreach \s in {wuji,blC}
		\draw[ln] (chengC.east) -- (chengC.east -| 553,0) |- (\s.west);
	\node[nm] (yiC2) at (661,2108) {司马毅};
	\draw[ln] (weiB.east) -- (yiC2.west);
	\node[nm] (xunD) at (827,2012) {司马勋};
	\draw[ln] (guan.east) -- (xunD.west);
	\node[nm,label={[lab,text=gB]west:谯敬王}] (tian) at (827,2035) {司马恬};
	\node[nm,label={[lab,text=gB]west:广晋伯}] (huiD) at (827,2052) {司马恢};
	\foreach \s in {tian,huiD}
		\draw[ln] (wuji.east) -- (wuji.east -| 747,0) |- (\s.west);
	\node[anchor=north west,inner sep=0.5pt,text=gy,font=\fontsize{12}{12}\selectfont\bfseries] (zjw) at ([xshift=30pt]huiD.south west) {字敬王};
	\node[nm] (blD2) at (827,2090) {};
	\draw[ln] (blC.east) -- (blD2.west);

	\node[nm,label={[lab,text=gB]west:谯忠王}] (shangzhi) at (1005,2006) {司马尚之};
	\node[nm] (huizhiE) at (1005,2025) {司马恢之};
	\node[nm,label={[lab,text=gB]west:广晋伯}] (yunzhi) at (1005,2043) {司马允之};
	\node[nm,label={[lab,thin,text=og]west:扬武将军始平声公}] (xiuzhiE) at (1005,2061) {司马休之};
	\foreach \s in {shangzhi,huizhiE,yunzhi,xiuzhiE}
		\draw[ln] (tian.east) -- (tian.east -| 897,0) |- (\s.west);
	\node[nm,label={[lab,text=gB]west:谯县王}] (kangzhi) at (1005,2088) {司马康之};
	\draw[ln] (blD2.east) -- (kangzhi.west);
	\node[nm] (wenzu) at (1180,1958) {司马文祖};
	\node[nm] (wenzhong) at (1180,2007) {司马文仲};
	\foreach \s in {wenzu,wenzhong}
		\draw[ln] (shangzhi.east) -- (shangzhi.east -| 1120,0) |- (\s.west);
	\node[nm,label={[lab,text=gB]west:高阳王}] (wenshen) at (1180,2025) {司马文深};
	\draw[ln] (huizhiE.east) -- (wenshen.west);
	\node[nm,label={[lab,text=gB]west:谯孝王}] (wensi) at (1180,2053) {司马文思};
	\node[nm] (wenbao) at (1180,2070) {司马文宝};
	\foreach \s in {wensi,wenbao}
		\draw[ln] (xiuzhiE.east) -- (xiuzhiE.east -| 1120,0) |- (\s.west);
	\node[nm,label={[lab,text=gB]west:广晋伯}] (wenhui) at (1180,2088) {司马文惠};
	\draw[ln] (kangzhi.east) -- (wenhui.west);
	\node[nm] (mituo) at (1384,2053) {司马弥陀};
	\draw[ln] (wensi.east) -- (mituo.west);

	% stray boxes on the right
	\node[nm,minimum width=66pt] (r1) at (2184,1600) {};
	\draw[ln,draw=black] (r1.west) -- ++(-4,0);
	\draw[ln,draw=black] (r1.east) -- ++(4,0);
	\node[nm,minimum width=54pt] (r2) at (2203,2094) {};
	\node[nm,minimum width=54pt] (r3) at (2203,2112) {};
	\draw[draw=black] ([xshift=-15pt]r2.south west) -- ([xshift=19pt]r2.south east);

	% bottom notes
	\node[text=vio,font=\fontsize{13}{13}\selectfont\bfseries] (bt) at (993,2172) {两个同名的司马恢之惹起的麻烦};
	\node[below=2pt of bt,text=vio,align=center,inner sep=0pt,font=\fontsize{12.5}{14}\selectfont\bfseries] (bp)
		{《魏书》相关作者误以为高密王司马恢之与荆州刺史司马休之就是兄弟，\\以至于把司马休之当做司马楚之的从祖（祖父）了。其实司马楚之的祖\\父恢之并非司马休之所说的那个亲弟弟恢之，只是同名罢了！};
	\node[text=red!80!magenta,font=\fontsize{11.5}{11.5}\selectfont] (rn) at (2028,2206) {绝对有不完善的地方，望看十六国研究爱好者指正};

\end{tikzpicture}
\end{document}
